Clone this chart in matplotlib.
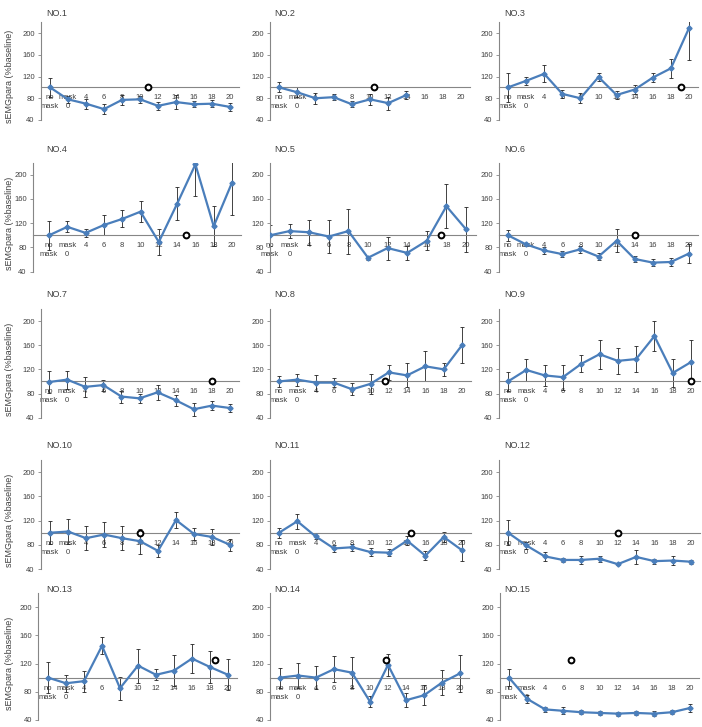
import matplotlib
matplotlib.use("Agg")
import matplotlib.pyplot as plt
import numpy as np

plt.rcParams['font.family'] = ['Liberation Sans', 'DejaVu Sans']

categories = ["no\nmask", "mask\n0", "4", "6", "8", "10", "12", "14", "16", "18", "20"]
titles = ["NO.%d" % i for i in range(1, 16)]

means_1 = [100, 78, 70, 60, 77, 78, 66, 73, 69, 70, 64]
errs_1 = [18, 7, 9, 9, 9, 7, 8, 13, 6, 7, 8]
means_2 = [100, 91, 80, 82, 69, 78, 71, 86]
errs_2 = [9, 9, 10, 6, 6, 10, 12, 7]
means_3 = [100, 112, 125, 88, 80, 119, 86, 96, 118, 135, 209]
errs_3 = [26, 8, 16, 8, 9, 7, 7, 8, 8, 18, 58]
means_4 = [100, 114, 104, 117, 127, 139, 89, 152, 217, 115, 187]
errs_4 = [24, 9, 7, 17, 14, 17, 22, 27, 52, 33, 54]
means_5 = [100, 107, 105, 98, 107, 63, 79, 71, 91, 148, 110]
errs_5 = [17, 11, 21, 27, 37, 3, 19, 12, 16, 36, 37]
means_6 = [100, 85, 75, 69, 77, 65, 91, 61, 55, 56, 70]
errs_6 = [9, 3, 6, 5, 6, 6, 19, 5, 6, 6, 15]
means_7 = [99, 103, 91, 94, 75, 72, 82, 69, 54, 60, 56]
errs_7 = [18, 15, 17, 9, 10, 7, 12, 9, 11, 8, 7]
means_8 = [100, 103, 98, 98, 87, 96, 115, 110, 125, 120, 160]
errs_8 = [9, 10, 13, 7, 10, 17, 13, 20, 25, 11, 30]
means_9 = [100, 119, 110, 107, 129, 145, 134, 137, 175, 114, 132]
errs_9 = [16, 18, 18, 21, 14, 24, 22, 22, 25, 23, 37]
means_10 = [100, 102, 91, 97, 91, 86, 70, 121, 98, 93, 80]
errs_10 = [19, 21, 20, 21, 20, 21, 10, 13, 10, 14, 10]
means_11 = [100, 119, 94, 74, 76, 68, 67, 87, 62, 93, 71]
errs_11 = [8, 12, 5, 6, 6, 7, 6, 8, 7, 9, 17]
means_12 = [100, 79, 61, 55, 55, 57, 48, 60, 53, 54, 52]
errs_12 = [21, 6, 7, 4, 6, 5, 2, 11, 4, 7, 3]
means_13 = [100, 92, 95, 145, 85, 117, 104, 110, 127, 115, 104]
errs_13 = [22, 12, 15, 12, 16, 24, 8, 22, 20, 22, 22]
means_14 = [100, 103, 100, 112, 107, 66, 118, 68, 75, 93, 106]
errs_14 = [14, 18, 16, 18, 22, 8, 16, 10, 14, 18, 26]
means_15 = [100, 70, 55, 53, 51, 50, 49, 50, 49, 51, 57]
errs_15 = [12, 6, 4, 5, 3, 3, 3, 3, 4, 3, 5]

# position (category units, value) of the open black circle
circle_pos = [5.45, 5.2, 9.57, 7.5, 8.7, 7.0, 9.0, 5.8, 10.0, 5.0, 7.2, 6.0, 9.3, 5.9, 3.4]
circle_val = [100, 100, 100, 100, 100, 100, 100, 100, 100, 100, 100, 100, 125, 125, 125]

means = [means_1, means_2, means_3, means_4, means_5, means_6, means_7, means_8,
         means_9, means_10, means_11, means_12, means_13, means_14, means_15]
errs = [errs_1, errs_2, errs_3, errs_4, errs_5, errs_6, errs_7, errs_8,
        errs_9, errs_10, errs_11, errs_12, errs_13, errs_14, errs_15]

W, H = 702, 727
fig = plt.figure(figsize=(W / 100, H / 100), dpi=100)

# layout in pixels: (spine_x, first_cat_x, last_cat_x) per panel, (y200, y40) per row
col_x = [
    [(41, 50, 230), (270, 279, 461), (499, 508, 689)],
    [(33, 49, 232), (270, 270, 466), (499, 508, 689)],
    [(41, 49, 230), (270, 279, 462), (499, 508, 691)],
    [(41, 50, 230), (270, 279, 462), (499, 508, 691)],
    [(38, 48, 228), (270, 280, 460), (500, 509, 690)],
]
row_y = [(33, 120), (174.7, 271.7), (321, 417.7), (472.3, 569), (607, 720)]
title_y = [14, 150, 294.7, 445, 589]
title_x = [46, 274, 504]

blue = "#4A7EBB"
gray = "#868686"

for k in range(15):
    r, c = divmod(k, 3)
    sx, fx, lx = col_x[r][c]
    y200, y40 = row_y[r]
    d = (lx - fx) / 10.0
    x0 = -(fx - sx) / d
    x1 = 10.5
    pu = (y40 - y200) / 160.0
    top = y200 - 20 * pu
    height = 180 * pu
    width = (x1 - x0) * d
    ax = fig.add_axes([sx / W, 1 - (top + height) / H, width / W, height / H])
    ax.set_xlim(x0, x1)
    ax.set_ylim(40, 220)
    ax.patch.set_alpha(0)
    for s in ['top', 'right']:
        ax.spines[s].set_visible(False)
    ax.spines['left'].set_color(gray)
    ax.spines['left'].set_linewidth(0.8)
    ax.spines['bottom'].set_position(('data', 100))
    ax.spines['bottom'].set_color(gray)
    ax.spines['bottom'].set_linewidth(0.8)
    ax.set_yticks([40, 80, 120, 160, 200])
    ax.tick_params(axis='y', labelsize=5.5, colors=gray, length=2.5, width=0.6, pad=2,
                   labelcolor='#404040')
    ax.set_xticks(range(len(categories)))
    ax.set_xticklabels(categories, fontsize=5.5, color='#404040', linespacing=1.4)
    ax.tick_params(axis='x', length=0, pad=5)
    for lab in ax.get_xticklabels():
        lab.set_verticalalignment('top')

    m = means[k]
    e = errs[k]
    xs = np.arange(len(m))
    ax.errorbar(xs, m, yerr=e, fmt='none', ecolor='#222222', elinewidth=0.6,
                capsize=1.6, capthick=0.6, zorder=2)
    ax.plot(xs, m, color=blue, lw=1.6, marker='D', ms=2.6, mfc=blue, mec=blue, zorder=3)
    ax.plot([circle_pos[k]], [circle_val[k]], marker='o', ms=4.2, mfc='white', mec='black',
            mew=1.4, zorder=4, clip_on=False)

    fig.text(title_x[c] / W, 1 - title_y[r] / H, titles[k], fontsize=6.5,
             color='#404040', ha='left', va='center')
    if c == 0:
        ycen = (y200 + y40) / 2
        fig.text(10 / W, 1 - ycen / H, "sEMGpara (%baseline)", rotation=90,
                 fontsize=6.5, color='#404040', ha='center', va='center')

fig.savefig("out.png", dpi=100)
